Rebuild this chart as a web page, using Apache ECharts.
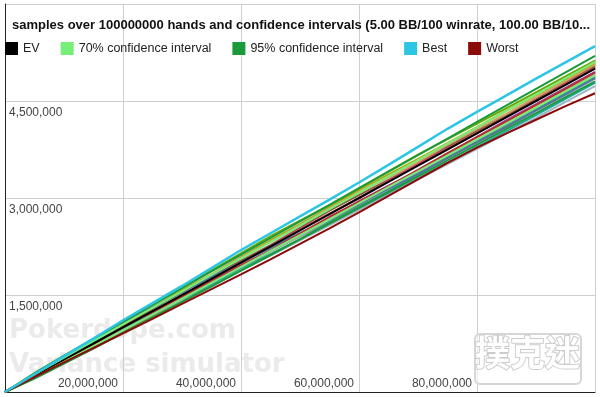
<!DOCTYPE html>
<html>
<head>
<meta charset="utf-8">
<script src="https://cdn.jsdelivr.net/npm/echarts@6/dist/echarts.min.js"></script>
<style>
  html, body { margin: 0; padding: 0; background: #fff; }
  #chart { width: 600px; height: 397px; }
</style>
</head>
<body>
<div id="chart"></div>
<script>
// hands played (x) every 5,000,000
var hands = [0, 5000000, 10000000, 15000000, 20000000, 25000000, 30000000, 35000000, 40000000, 45000000,
  50000000, 55000000, 60000000, 65000000, 70000000, 75000000, 80000000, 85000000, 90000000, 95000000, 100000000];

var xTicks = [20000000, 40000000, 60000000, 80000000];
var yTicks = [1500000, 3000000, 4500000];

var ev = [0, 250000, 500000, 750000, 1000000, 1250000, 1500000, 1750000, 2000000, 2250000,
  2500000, 2750000, 3000000, 3250000, 3500000, 3750000, 4000000, 4250000, 4500000, 4750000, 5000000];
var ci70Up = [0, 273200, 532800, 790100, 1046300, 1301800, 1556700, 1811300, 2065500, 2319500,
  2573300, 2826900, 3080300, 3333500, 3586700, 3839700, 4092600, 4345500, 4598300, 4851000, 5103600];
var ci70Low = [0, 226800, 467200, 709900, 953700, 1198200, 1443300, 1688700, 1934500, 2180500,
  2426700, 2673100, 2919700, 3166500, 3413300, 3660300, 3907400, 4154500, 4401700, 4649000, 4896400];
var ci95Up = [0, 293800, 562000, 825900, 1087700, 1348000, 1607400, 1866000, 2124000, 2381500,
  2638600, 2895400, 3151800, 3408000, 3664000, 3919700, 4175300, 4430700, 4685900, 4941000, 5196000];
var ci95Low = [0, 206200, 438000, 674100, 912300, 1152000, 1392600, 1634000, 1876000, 2118500,
  2361400, 2604600, 2848200, 3092000, 3336000, 3580300, 3824700, 4069300, 4314100, 4559000, 4804000];
var best = [0, 275000, 550000, 825000, 1110000, 1375000, 1640000, 1915000, 2195000, 2455000,
  2715000, 2975000, 3240000, 3512000, 3790000, 4070000, 4333000, 4588000, 4845000, 5098000, 5350000];
var worst = [0, 232000, 458000, 682000, 908000, 1132000, 1362000, 1592000, 1818000, 2052000,
  2292000, 2532000, 2778000, 3032000, 3288000, 3542000, 3778000, 4000000, 4210000, 4420000, 4620000];

// the other sample runs
var samples = [
  [0, 260000, 530000, 795000, 1040000, 1310000, 1575000, 1820000, 2090000, 2350000, 2595000, 2860000, 3120000, 3365000, 3605000, 3850000, 4095000, 4350000, 4590000, 4835000, 5080000],
  [0, 235000, 505000, 780000, 1055000, 1300000, 1540000, 1815000, 2080000, 2320000, 2575000, 2840000, 3085000, 3320000, 3560000, 3825000, 4065000, 4305000, 4560000, 4812000, 5060000],
  [0, 270000, 515000, 745000, 1010000, 1285000, 1550000, 1795000, 2030000, 2270000, 2540000, 2805000, 3045000, 3280000, 3525000, 3790000, 4035000, 4270000, 4525000, 4778000, 5030000],
  [0, 225000, 460000, 720000, 955000, 1190000, 1450000, 1715000, 1960000, 2195000, 2430000, 2685000, 2950000, 3190000, 3425000, 3680000, 3945000, 4205000, 4450000, 4702000, 4950000],
  [0, 255000, 490000, 725000, 960000, 1215000, 1445000, 1675000, 1910000, 2170000, 2405000, 2640000, 2900000, 3160000, 3395000, 3635000, 3880000, 4140000, 4400000, 4655000, 4900000],
  [0, 240000, 470000, 695000, 930000, 1165000, 1400000, 1660000, 1890000, 2125000, 2365000, 2630000, 2870000, 3105000, 3360000, 3625000, 3870000, 4110000, 4365000, 4622000, 4870000],
  [0, 265000, 535000, 770000, 995000, 1220000, 1445000, 1670000, 1900000, 2130000, 2360000, 2590000, 2825000, 3065000, 3305000, 3545000, 3790000, 4035000, 4280000, 4532000, 4780000],
  [0, 230000, 465000, 700000, 940000, 1170000, 1400000, 1635000, 1880000, 2110000, 2345000, 2580000, 2815000, 3050000, 3290000, 3525000, 3760000, 4000000, 4240000, 4485000, 4730000],
  [0, 220000, 445000, 670000, 925000, 1190000, 1455000, 1720000, 1990000, 2255000, 2520000, 2760000, 2995000, 3260000, 3525000, 3765000, 4005000, 4250000, 4510000, 4762000, 5010000],
  [0, 260000, 525000, 800000, 1070000, 1310000, 1545000, 1775000, 2005000, 2230000, 2455000, 2680000, 2905000, 3140000, 3375000, 3615000, 3860000, 4100000, 4352000, 4600000, 4850000],
  [0, 245000, 480000, 740000, 1005000, 1235000, 1470000, 1725000, 1955000, 2190000, 2450000, 2710000, 2945000, 3180000, 3435000, 3695000, 3940000, 4180000, 4435000, 4688000, 4940000],
  [0, 270000, 545000, 820000, 1090000, 1350000, 1615000, 1880000, 2145000, 2410000, 2650000, 2890000, 3150000, 3410000, 3670000, 3910000, 4150000, 4390000, 4635000, 4880000, 5125000]
];
var sampleColors = ["#aaaa11", "#d9a060", "#8c5a3c", "#994499", "#999999", "#3a9a78",
  "#22aa99", "#9fb3c0", "#dd4477", "#5574a6", "#b82e2e", "#66aa00"];

var legendNames = ["EV", "70% confidence interval", "95% confidence interval", "Best", "Worst"];

function pairs(vals) {
  return hands.map(function (h, i) { return [h, vals[i]]; });
}
function fmt(v) {
  return String(v).replace(/\B(?=(\d{3})+(?!\d))/g, ",");
}
function line(name, color, vals, width, z) {
  return {
    name: name,
    type: "line",
    data: pairs(vals),
    showSymbol: false,
    symbol: "none",
    silent: true,
    z: z || 2,
    lineStyle: { color: color, width: width || 2 },
    itemStyle: { color: color }
  };
}

var series = [];
samples.forEach(function (s, i) {
  series.push(line("Sample " + (i + 1), sampleColors[i], s, 2));
});
series.push(line("EV", "#000000", ev, 2, 3));
series.push(line("70% confidence interval", "#77ee77", ci70Up, 2, 3));
series.push(line("70% confidence interval", "#77ee77", ci70Low, 2, 3));
series.push(line("95% confidence interval", "#1a9a3a", ci95Up, 2, 3));
series.push(line("95% confidence interval", "#1a9a3a", ci95Low, 2, 3));
series.push(line("Worst", "#8b0a0a", worst, 2, 4));
series.push(line("Best", "#2cc6e4", best, 2.5, 4));

var chart = echarts.init(document.getElementById("chart"));
chart.setOption({
  animation: false,
  backgroundColor: "#fff",
  textStyle: { fontFamily: "Liberation Sans, Arial, sans-serif" },
  title: {
    text: "samples over 100000000 hands and confidence intervals (5.00 BB/100 winrate, 100.00 BB/10...",
    left: 7,
    top: 14,
    textStyle: { fontSize: 13, fontWeight: "bold", color: "#111" }
  },
  legend: {
    data: legendNames,
    left: 0,
    top: 37,
    icon: "rect",
    itemWidth: 13,
    itemHeight: 13,
    itemGap: 21,
    selectedMode: false,
    textStyle: { fontSize: 12.5, color: "#222" }
  },
  grid: { left: 5, right: 5, top: 4, bottom: 5, containLabel: false },
  xAxis: {
    type: "value",
    min: 0,
    max: 100000000,
    interval: 20000000,
    axisLine: { show: true, lineStyle: { color: "#222", width: 1 } },
    axisTick: { show: false },
    splitLine: { show: true, lineStyle: { color: "#cfcfcf", width: 1 } },
    axisLabel: {
      inside: true,
      margin: 2,
      fontSize: 12,
      color: "#444",
      align: "right",
      verticalAlign: "bottom",
      padding: [0, 5, 0, 0],
      formatter: function (v) { return xTicks.indexOf(v) >= 0 ? fmt(v) : ""; }
    }
  },
  yAxis: {
    type: "value",
    min: 0,
    max: 6000000,
    interval: 1500000,
    axisLine: { show: true, lineStyle: { color: "#222", width: 1 } },
    axisTick: { show: false },
    splitLine: { show: true, lineStyle: { color: "#cfcfcf", width: 1 } },
    axisLabel: {
      inside: true,
      margin: 4,
      fontSize: 12,
      color: "#444",
      align: "left",
      verticalAlign: "top",
      padding: [6, 0, 0, 0],
      formatter: function (v) { return yTicks.indexOf(v) >= 0 ? fmt(v) : ""; }
    }
  },
  graphic: [
    {
      type: "text", left: 9, top: 318, z: 0, silent: true,
      style: { text: "Pokerdope.com", fill: "#ebebeb", font: "bold 26px DejaVu Sans, sans-serif" }
    },
    {
      type: "text", left: 9, top: 352, z: 0, silent: true,
      style: { text: "Variance simulator", fill: "#ebebeb", font: "bold 26px DejaVu Sans, sans-serif" }
    },
    {
      type: "rect", left: 474, top: 333, z: 10, silent: true,
      shape: { width: 106, height: 50, r: 5 },
      style: { fill: "rgba(255,255,255,0.6)", stroke: "#d6d6d6", lineWidth: 2 }
    },
    {
      type: "text", left: 474, top: 334, z: 11, silent: true,
      style: {
        text: "撲克迷", fill: "#ffffff", stroke: "#cccccc", lineWidth: 2,
        font: "bold 35px 'Noto Sans CJK TC', sans-serif"
      }
    }
  ],
  series: series
});
</script>
</body>
</html>
